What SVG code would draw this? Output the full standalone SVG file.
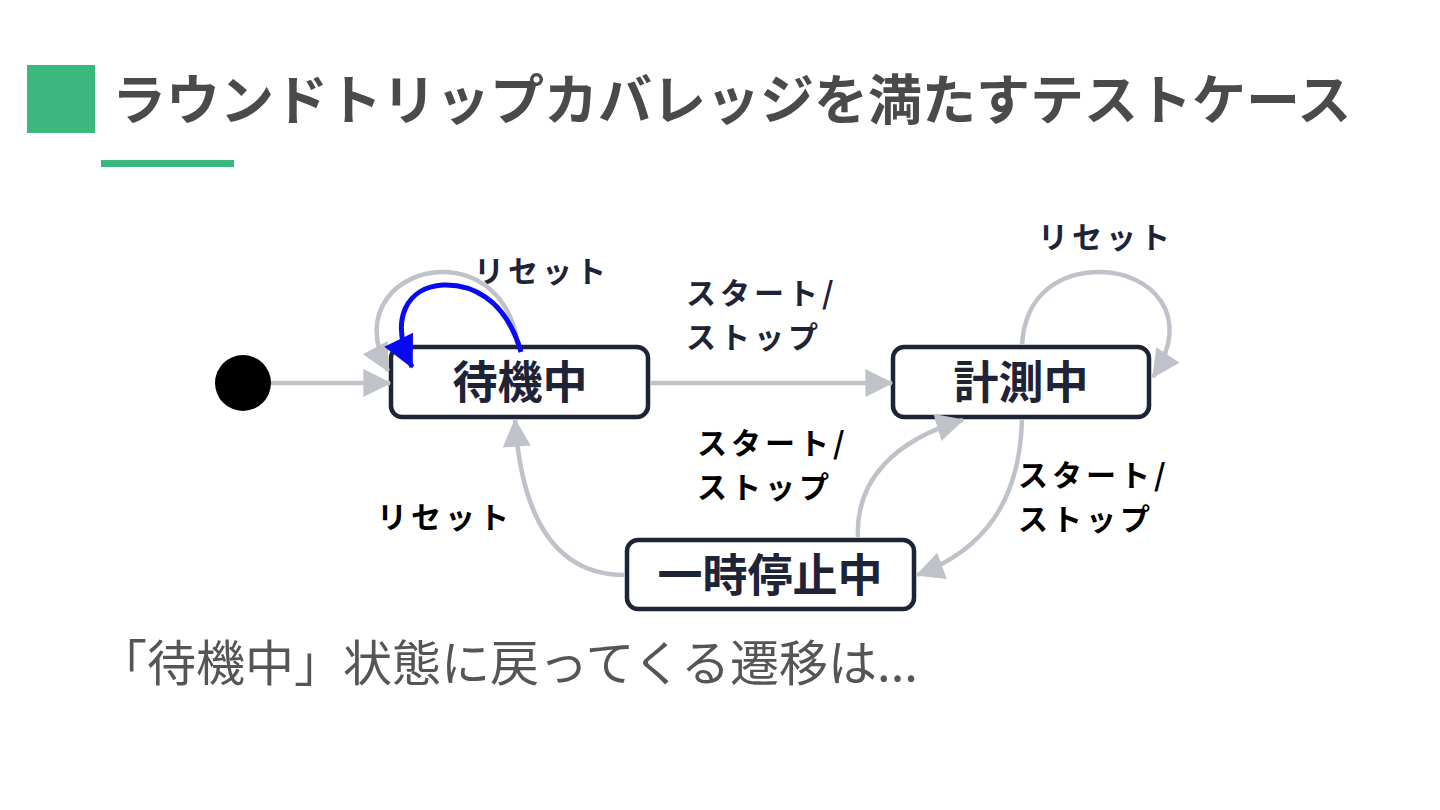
<svg xmlns="http://www.w3.org/2000/svg" width="1440" height="810" viewBox="0 0 1440 810">
<style>
.node rect{fill:#fff;stroke:#1e2336;stroke-width:4.5}
.node text{font-family:"Noto Sans CJK JP","Noto Sans",sans-serif;font-weight:700;font-size:45px;fill:#1e2336;text-anchor:middle}
.edge{fill:none;stroke:#bfc2c9;stroke-width:4.5}
.lbl{font-family:"Noto Sans CJK JP","Noto Sans",sans-serif;font-weight:700;font-size:30px;letter-spacing:4px}
.navy{fill:#1e2336}
.blk{fill:#000}
</style>
<defs>
<marker id="ag" viewBox="0 0 10 10" refX="9.5" refY="5" markerWidth="34" markerHeight="28" markerUnits="userSpaceOnUse" orient="auto"><path d="M0,0 L10,5 L0,10 z" fill="#bfc2c9"/></marker>
<marker id="ab" viewBox="0 0 10 10" refX="9.5" refY="5" markerWidth="38" markerHeight="32" markerUnits="userSpaceOnUse" orient="auto"><path d="M0,0 L10,5 L0,10 z" fill="#0a0af0"/></marker>
</defs>
<rect width="1440" height="810" fill="#fff"/>
<rect x="27" y="65" width="68" height="68" fill="#3cb77e"/>
<rect x="101" y="160" width="133" height="7" fill="#3cb77e"/>
<text x="112" y="120" font-family="'Noto Sans CJK JP','Noto Sans',sans-serif" font-weight="700" font-size="54" fill="#4a4a4a">ラウンドトリップカバレッジを満たすテストケース</text>

<g id="initial"><circle cx="243" cy="383" r="28" fill="#000"/></g>
<g id="taiki" class="node"><rect x="391" y="347" width="257" height="70" rx="11"/><text x="520" y="399">待機中</text></g>
<g id="keisoku" class="node"><rect x="893" y="347" width="256" height="70" rx="11"/><text x="1021" y="399">計測中</text></g>
<g id="ichiji" class="node"><rect x="627" y="540" width="287" height="69" rx="11"/><text x="770" y="592">一時停止中</text></g>

<g id="connectors">
<line class="edge" x1="271" y1="383" x2="390" y2="383" marker-end="url(#ag)"/>
<line class="edge" x1="650" y1="383" x2="892" y2="383" marker-end="url(#ag)"/>
<path class="edge" d="M518,345 C510,292 475,272 442,272 C400,272 355,310 388,371" marker-end="url(#ag)"/>
<path d="M521,352 C505,297 470,284 443,285 C408,287 388,318 412,367" fill="none" stroke="#0a0af0" stroke-width="5" marker-end="url(#ab)"/>
<path class="edge" d="M1022,345 C1025,292 1062,272 1100,272 C1150,272 1195,315 1153,377" marker-end="url(#ag)"/>
<path class="edge" d="M1022,419 C1020,500 985,550 917,575" marker-end="url(#ag)"/>
<path class="edge" d="M858,538 C855,480 895,440 963,420" marker-end="url(#ag)"/>
<path class="edge" d="M625,575 C560,575 522,525 515,420" marker-end="url(#ag)"/>
</g>

<g id="labels">
<text class="lbl navy" x="474" y="282">リセット</text>
<text class="lbl navy" x="686" y="304">スタート/<tspan x="686" dy="44">ストップ</tspan></text>
<text class="lbl navy" x="1038" y="248">リセット</text>
<text class="lbl blk" x="697" y="454">スタート/<tspan x="697" dy="44">ストップ</tspan></text>
<text class="lbl blk" x="377" y="528">リセット</text>
<text class="lbl blk" x="1018" y="486">スタート/<tspan x="1018" dy="44">ストップ</tspan></text>
</g>
<text x="98" y="681" font-family="'Noto Sans CJK JP','Noto Sans',sans-serif" font-size="49" fill="#555">「待機中」状態に戻ってくる遷移は...</text>
</svg>
